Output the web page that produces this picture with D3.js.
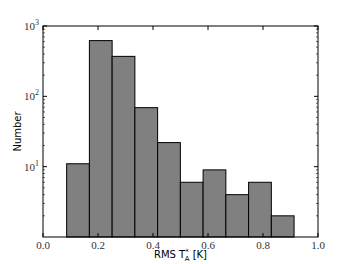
<!DOCTYPE html>
<html>
<head>
<meta charset="utf-8">
<script src="https://cdn.jsdelivr.net/npm/d3@7"></script>
<style>
  body { margin: 0; background: #fff; }
  svg { display: block; }
</style>
</head>
<body>
<svg id="chart"></svg>
<script>
// histogram of RMS noise
const binStart = 0.086;
const binWidth = 0.0827;
const counts = [11, 620, 370, 69, 22, 6, 9, 4, 6, 2];
const xTicks = [0.0, 0.2, 0.4, 0.6, 0.8, 1.0];
const yTicks = [10, 100, 1000];

const width = 352, height = 264;
const margin = {left: 43, right: 34, top: 26, bottom: 27};

const svg = d3.select("#chart")
    .attr("width", width)
    .attr("height", height);

const x = d3.scaleLinear().domain([0, 1]).range([margin.left, width - margin.right]);
const y = d3.scaleLog().domain([1, 1000]).range([height - margin.bottom, margin.top]);

const bins = counts.map((c, i) => ({x0: binStart + i * binWidth, x1: binStart + (i + 1) * binWidth, n: c}));

svg.append("g")
    .selectAll("rect")
    .data(bins)
    .enter().append("rect")
    .attr("x", d => x(d.x0))
    .attr("width", d => x(d.x1) - x(d.x0))
    .attr("y", d => y(d.n))
    .attr("height", d => y(1) - y(d.n))
    .attr("fill", "#808080")
    .attr("stroke", "#000")
    .attr("stroke-width", 1);

// frame
svg.append("rect")
    .attr("x", x(0))
    .attr("y", y(1000))
    .attr("width", x(1) - x(0))
    .attr("height", y(1) - y(1000))
    .attr("fill", "none")
    .attr("stroke", "#000")
    .attr("stroke-width", 1);

// x ticks, inward on bottom and top
const tickLen = 4, minorLen = 2;
xTicks.forEach(t => {
    svg.append("line").attr("x1", x(t)).attr("x2", x(t))
        .attr("y1", y(1)).attr("y2", y(1) - tickLen).attr("stroke", "#000");
    svg.append("line").attr("x1", x(t)).attr("x2", x(t))
        .attr("y1", y(1000)).attr("y2", y(1000) + tickLen).attr("stroke", "#000");
    svg.append("text")
        .attr("x", x(t)).attr("y", y(1) + 12)
        .attr("text-anchor", "middle")
        .attr("font-family", "Liberation Serif")
        .attr("font-size", 11)
        .attr("fill", "#333")
        .text(d3.format(".1f")(t));
});

// y ticks, major + minor, both sides
const minor = [];
for (let e = 0; e < 3; e++) for (let k = 2; k <= 9; k++) minor.push(k * Math.pow(10, e));
minor.forEach(v => {
    svg.append("line").attr("x1", x(0)).attr("x2", x(0) + minorLen)
        .attr("y1", y(v)).attr("y2", y(v)).attr("stroke", "#000").attr("stroke-width", 0.6);
    svg.append("line").attr("x1", x(1)).attr("x2", x(1) - minorLen)
        .attr("y1", y(v)).attr("y2", y(v)).attr("stroke", "#000").attr("stroke-width", 0.6);
});
yTicks.forEach(v => {
    svg.append("line").attr("x1", x(0)).attr("x2", x(0) + tickLen)
        .attr("y1", y(v)).attr("y2", y(v)).attr("stroke", "#000");
    svg.append("line").attr("x1", x(1)).attr("x2", x(1) - tickLen)
        .attr("y1", y(v)).attr("y2", y(v)).attr("stroke", "#000");
    const t = svg.append("text")
        .attr("x", x(0) - 4).attr("y", y(v) + 4)
        .attr("text-anchor", "end")
        .attr("font-family", "Liberation Serif")
        .attr("font-size", 11)
        .attr("fill", "#333");
    t.append("tspan").text("10");
    t.append("tspan").attr("dy", -5).attr("font-size", 8).text(Math.log10(v));
});

// axis labels
svg.append("text")
    .attr("transform", `translate(21,${(y(1) + y(1000)) / 2}) rotate(-90)`)
    .attr("text-anchor", "middle")
    .attr("font-family", "DejaVu Sans")
    .attr("font-size", 10)
    .text("Number");

const xl = svg.append("text")
    .attr("x", x(0.5))
    .attr("y", 258)
    .attr("text-anchor", "middle")
    .attr("font-family", "DejaVu Sans")
    .attr("font-size", 10);
xl.append("tspan").text("RMS T");
xl.append("tspan").attr("dy", -4).attr("font-size", 7).text("*");
xl.append("tspan").attr("dx", -4).attr("dy", 7).attr("font-size", 7).text("A");
xl.append("tspan").attr("dy", -3).text(" [K]");
</script>
</body>
</html>
